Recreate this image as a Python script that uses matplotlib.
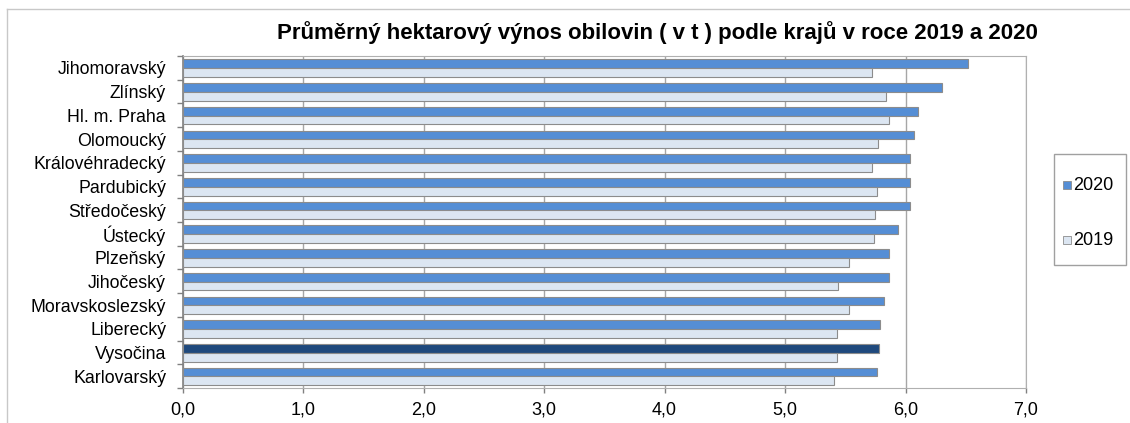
import matplotlib
matplotlib.use("Agg")
import matplotlib.pyplot as plt
from matplotlib.patches import Rectangle
from matplotlib.lines import Line2D
import numpy as np

plt.rcParams['font.family'] = ['Liberation Sans', 'DejaVu Sans']

regions = ["Jihomoravský", "Zlínský", "Hl. m. Praha", "Olomoucký", "Královéhradecký",
           "Pardubický", "Středočeský", "Ústecký", "Plzeňský", "Jihočeský",
           "Moravskoslezský", "Liberecký", "Vysočina", "Karlovarský"]
y2020 = [6.52, 6.30, 6.10, 6.07, 6.04, 6.04, 6.04, 5.94, 5.86, 5.86, 5.82, 5.79, 5.78, 5.76]
y2019 = [5.72, 5.84, 5.86, 5.77, 5.72, 5.76, 5.75, 5.74, 5.53, 5.44, 5.53, 5.43, 5.43, 5.41]
highlight = "Vysočina"
series_labels = ["2020", "2019"]
xticks = [0, 1, 2, 3, 4, 5, 6, 7]
xticklabels = ["0,0", "1,0", "2,0", "3,0", "4,0", "5,0", "6,0", "7,0"]
title = "Průměrný hektarový výnos obilovin ( v t ) podle krajů v roce 2019 a 2020"

W, H = 1130, 423
fig = plt.figure(figsize=(W / 100, H / 100), dpi=100)
ax = fig.add_axes([182.7 / W, 1 - 388 / H, (1026 - 182.7) / W, (388 - 56) / H])

c2020 = "#558ED5"
c2020_hl = "#1F497D"
c2019 = "#DCE6F2"
edge = "#8C8C8C"

pos = np.arange(len(regions))
colors2020 = [c2020_hl if r == highlight else c2020 for r in regions]
ax.barh(pos - 0.17, y2020, height=0.37, color=colors2020, edgecolor=edge, linewidth=0.8, zorder=3)
ax.barh(pos + 0.2, y2019, height=0.37, color=c2019, edgecolor=edge, linewidth=0.8, zorder=3)

ax.set_xlim(0, 7)
ax.set_ylim(len(regions) - 0.5, -0.5)
ax.set_xticks(xticks)
ax.set_xticklabels(xticklabels, fontsize=13)
ax.set_yticks(pos)
ax.set_yticklabels(regions, fontsize=12.8)
ax.set_yticks(np.arange(len(regions) + 1) - 0.5, minor=True)
ax.tick_params(axis='y', which='major', length=0, pad=12)
ax.tick_params(axis='y', which='minor', length=4, color="#808080", width=1)
ax.tick_params(axis='x', which='major', length=3.5, color="#808080", width=1, pad=6)
ax.grid(axis='x', color="#A6A6A6", linewidth=1, zorder=0)
for s in ['top', 'right', 'bottom']:
    ax.spines[s].set_color("#B0B0B0")
ax.spines['left'].set_color("#808080")
ax.spines['left'].set_linewidth(1.2)

fig.text(657 / W, 1 - 39 / H, title, ha='center', va='baseline', fontsize=16, fontweight='bold')

# legend drawn in figure pixel coordinates
def fx(px):
    return px / W

def fy(py):
    return 1 - py / H

fig.add_artist(Rectangle((fx(1054), fy(265)), fx(1126) - fx(1054), fy(154) - fy(265),
                         transform=fig.transFigure, facecolor="white", edgecolor="#A0A0A0",
                         linewidth=1))
for lab, col, yc in zip(series_labels, [c2020, c2019], [185, 240]):
    fig.add_artist(Rectangle((fx(1063), fy(yc + 4)), fx(8), 8 / H, transform=fig.transFigure,
                             facecolor=col, edgecolor=edge, linewidth=0.6))
    fig.text(fx(1073), fy(yc), lab, ha='left', va='center', fontsize=13)

# outer chart frame
fig.add_artist(Line2D([7 / W, 1], [1 - 9 / H, 1 - 9 / H], color="#C8C8C8", linewidth=1))
fig.add_artist(Line2D([7 / W, 7 / W], [0, 1 - 9 / H], color="#C8C8C8", linewidth=1))

fig.savefig("out.png", dpi=100)
